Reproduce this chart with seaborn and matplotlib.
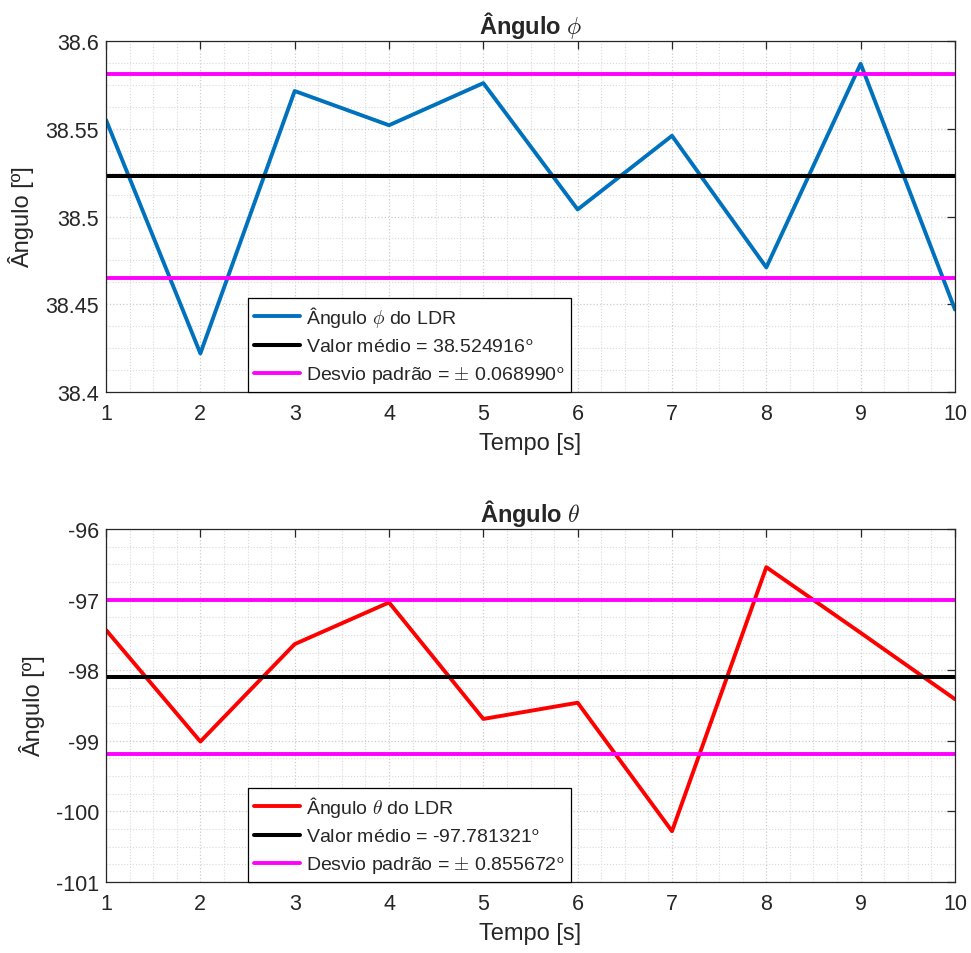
import numpy as np
import pandas as pd
import matplotlib
matplotlib.use('Agg')
import matplotlib.pyplot as plt
import seaborn as sns
from matplotlib.ticker import AutoMinorLocator, FuncFormatter, MultipleLocator

# dados
tempo = [1, 2, 3, 4, 5, 6, 7, 8, 9, 10]
phi = [38.555, 38.422, 38.5715, 38.552, 38.576, 38.504, 38.546, 38.471, 38.587, 38.447]
theta = [-97.43, -99.01, -97.63, -97.04, -98.69, -98.46, -100.28, -96.54, -97.47, -98.41]

# linhas de referencia (media e media +- desvio) como desenhadas
phi_media = 38.523
phi_desvio = [38.581, 38.465]
theta_media = -98.10
theta_desvio = [-97.01, -99.19]

# textos da legenda
phi_leg = [r'Ângulo $\phi$ do LDR',
           r'Valor médio = 38.524916$^{\mathsf{o}}$',
           r'Desvio padrão = $\pm$ 0.068990$^{\mathsf{o}}$']
theta_leg = [r'Ângulo $\theta$ do LDR',
             r'Valor médio = -97.781321$^{\mathsf{o}}$',
             r'Desvio padrão = $\pm$ 0.855672$^{\mathsf{o}}$']

sns.set_style('white')
plt.rcParams['font.family'] = ['Liberation Sans', 'DejaVu Sans']
plt.rcParams['mathtext.fontset'] = 'cm'

fig = plt.figure(figsize=(9.71, 9.54), dpi=100)
ax1 = fig.add_axes([0.1092, 0.588, 0.8743, 0.368])
ax2 = fig.add_axes([0.1092, 0.0744, 0.8743, 0.370])


def desenha(ax, y, cor, media, desvio, legendas, titulo, ylim, ystep):
    df = pd.DataFrame({'t': tempo, 'v': y})
    sns.lineplot(data=df, x='t', y='v', ax=ax, color=cor, linewidth=2.8,
                 label=legendas[0])
    ax.axhline(media, color='black', linewidth=2.9, label=legendas[1])
    ax.axhline(desvio[0], color='#FF00FF', linewidth=2.8, label=legendas[2])
    ax.axhline(desvio[1], color='#FF00FF', linewidth=2.8)

    ax.set_xlim(1, 10)
    ax.set_ylim(*ylim)
    ax.xaxis.set_major_locator(MultipleLocator(1))
    ax.yaxis.set_major_locator(MultipleLocator(ystep))
    ax.xaxis.set_minor_locator(AutoMinorLocator(4))
    ax.yaxis.set_minor_locator(AutoMinorLocator(4))
    ax.yaxis.set_major_formatter(FuncFormatter(lambda v, p: '%g' % round(v, 6)))
    ax.grid(True, which='major', color='#cccccc', linestyle=':', linewidth=0.9)
    ax.grid(True, which='minor', color='#d9d9d9', linestyle=':', linewidth=0.8)
    ax.set_axisbelow(True)
    ax.tick_params(which='major', direction='in', length=6, width=0.9,
                   top=True, right=True, labelsize=15.5, colors='#262626')
    ax.tick_params(axis='x', which='major', pad=8)
    ax.tick_params(axis='y', which='major', pad=5)
    ax.tick_params(which='minor', length=0)
    for s in ax.spines.values():
        s.set_color('#262626')
        s.set_linewidth(0.9)

    ax.set_xlabel('Tempo [s]', fontsize=17, color='#262626', labelpad=6)
    ax.set_ylabel('Ângulo [º]', fontsize=17, color='#262626', labelpad=8)
    ax.set_title(titulo, fontsize=17, fontweight='bold', pad=6)

    leg = ax.legend(loc='lower left', bbox_to_anchor=(0.167, 0.0), fontsize=14,
                    frameon=True, fancybox=False, framealpha=1,
                    edgecolor='black', handlelength=2.4, handletextpad=0.3,
                    labelspacing=0.45, borderpad=0.3, borderaxespad=0)
    leg.get_frame().set_linewidth(0.9)


desenha(ax1, phi, '#0072BD', phi_media, phi_desvio, phi_leg,
        r'Ângulo $\phi$', (38.4, 38.6), 0.05)
desenha(ax2, theta, '#FF0000', theta_media, theta_desvio, theta_leg,
        r'Ângulo $\theta$', (-101, -96), 1)

fig.savefig('out.png', dpi=100)
